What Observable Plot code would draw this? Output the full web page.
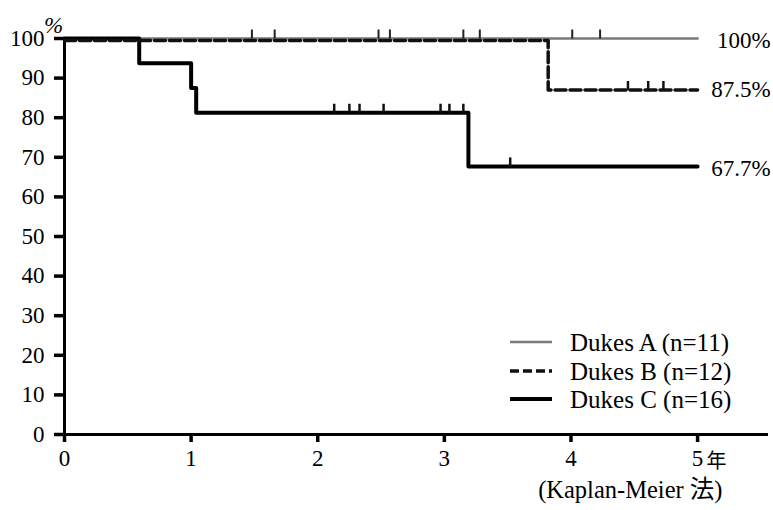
<!DOCTYPE html>
<html>
<head>
<meta charset="utf-8">
<script src="https://cdn.jsdelivr.net/npm/d3@7"></script>
<script src="https://cdn.jsdelivr.net/npm/@observablehq/plot@0.6"></script>
<style>
  body { margin: 0; background: #fff; }
  #wrap { position: relative; width: 773px; height: 510px; }
  #legend { position: absolute; left: 0; top: 0; pointer-events: none; }
</style>
</head>
<body>
<div id="wrap"></div>
<script>
// ---- data ----
const xTicks = [0, 1, 2, 3, 4, 5];
const yTicks = [0, 10, 20, 30, 40, 50, 60, 70, 80, 90, 100];
const xMax = 5.56;

// Dukes A (n=11)
const timeA = [0, 5];
const survA = [100, 100];
const censorA = [1.48, 1.66, 2.48, 2.57, 3.15, 3.28, 4.01, 4.23];

// Dukes B (n=12)
const timeB = [0, 3.82, 5];
const survB = [100, 87.5, 87.5];
const censorB = [4.45, 4.61, 4.73];

// Dukes C (n=16)
const timeC = [0, 0.59, 1.0, 1.04, 3.19, 5];
const survC = [100, 93.75, 87.5, 81.25, 67.7, 67.7];
const censorC = [2.13, 2.25, 2.33, 2.52, 2.97, 3.04, 3.15, 3.52];
const censorCSurv = [81.25, 81.25, 81.25, 81.25, 81.25, 81.25, 81.25, 67.7];

const endLabels = ["100%", "87.5%", "67.7%"];
const endValues = [100, 87.5, 67.7];

const legendNames = ["Dukes A (n=11)", "Dukes B (n=12)", "Dukes C (n=16)"];

// ---- build tables ----
const lineA = timeA.map((t, i) => ({t, s: survA[i]}));
const lineB = timeB.map((t, i) => ({t, s: survB[i]}));
const lineC = timeC.map((t, i) => ({t, s: survC[i]}));
const cenA = censorA.map(t => ({t, s: 100}));
const cenB = censorB.map(t => ({t, s: 87.5}));
const cenC = censorC.map((t, i) => ({t, s: censorCSurv[i]}));
const ends = endLabels.map((label, i) => ({label, s: endValues[i], t: xTicks[xTicks.length - 1]}));

const censorSymbol = {draw(ctx) { ctx.moveTo(0, 0); ctx.lineTo(0, -9); }};

const serif = "'Liberation Serif', 'Times New Roman', 'Noto Sans CJK JP', serif";

const chart = Plot.plot({
  width: 773,
  height: 510,
  marginLeft: 64,
  marginRight: 5,
  marginTop: 38,
  marginBottom: 76,
  style: {fontFamily: serif, fontSize: "23px", color: "#000", background: "#fff", overflow: "visible"},
  x: {domain: [0, xMax], ticks: xTicks, tickSize: 8, tickPadding: 7, label: null, tickFormat: d => String(d)},
  y: {domain: [0, 100], ticks: yTicks, tickSize: 10, tickPadding: 10, label: null, tickFormat: d => String(d)},
  marks: [
    Plot.ruleY([0], {stroke: "#000", strokeWidth: 3}),
    Plot.ruleX([0], {stroke: "#000", strokeWidth: 3}),
    Plot.line(lineA, {x: "t", y: "s", curve: "step-after", stroke: "#7a7a7a", strokeWidth: 2.5}),
    Plot.line(lineC, {x: "t", y: "s", curve: "step-after", stroke: "#000", strokeWidth: 4}),
    Plot.line(lineB, {x: "t", y: "s", curve: "step-after", stroke: "#111", strokeWidth: 3.5, strokeDasharray: "11,4", dy: 2}),
    Plot.dot(cenA, {x: "t", y: "s", symbol: censorSymbol, r: 4, fill: "none", stroke: "#222", strokeWidth: 2}),
    Plot.dot(cenB, {x: "t", y: "s", symbol: censorSymbol, r: 4, fill: "none", stroke: "#111", strokeWidth: 2.5, dy: 2}),
    Plot.dot(cenC, {x: "t", y: "s", symbol: censorSymbol, r: 4, fill: "none", stroke: "#111", strokeWidth: 2.5}),
    Plot.text(ends, {x: "t", y: "s", text: "label", textAnchor: "end", dx: 73, dy: 2, fontSize: 23, fill: "#000"}),
    Plot.text(["年"], {x: () => xTicks[xTicks.length - 1], y: () => 0, text: d => d, textAnchor: "start", dx: 9, dy: 27, fontSize: 20, fontFamily: "'Noto Sans CJK JP', sans-serif", fill: "#000"}),
    Plot.text(["%"], {frameAnchor: "top-left", text: d => d, textAnchor: "middle", dx: -11, dy: -22, fontSize: 23, fontStyle: "italic", fill: "#000"}),
    Plot.text(["(Kaplan-Meier 法)"], {frameAnchor: "bottom-right", text: d => d, textAnchor: "end", dx: -46, dy: 63, fontSize: 24.5, fill: "#000"})
  ]
});
document.getElementById("wrap").appendChild(chart);

// thicken the library's axis ticks and enlarge their labels (as in the reference)
const root = d3.select(chart);
root.selectAll('g[aria-label*="axis"]').style("font-size", "23px").style("font-family", serif);
root.selectAll('g[aria-label*="axis"] path, g[aria-label*="axis"] line')
  .style("stroke-width", "3.5px").style("stroke", "#000");
root.selectAll('g[aria-label*="axis"] text')
  .style("font-size", "23px").style("font-family", serif).style("fill", "#000");

// ---- legend (overlay) ----
const lg = d3.select("#wrap").append("svg").attr("id", "legend").attr("width", 773).attr("height", 510);
const legendStyles = [
  {stroke: "#7a7a7a", width: 2.5, dash: null},
  {stroke: "#111", width: 3.5, dash: "9,4"},
  {stroke: "#000", width: 4, dash: null}
];
const rowY = [342, 371, 399];
legendNames.forEach((name, i) => {
  const s = legendStyles[i];
  lg.append("line").attr("x1", 510).attr("x2", 552).attr("y1", rowY[i]).attr("y2", rowY[i])
    .attr("stroke", s.stroke).attr("stroke-width", s.width).attr("stroke-dasharray", s.dash);
  lg.append("text").attr("x", 570).attr("y", rowY[i]).attr("dy", "0.35em")
    .attr("font-family", serif).attr("font-size", 25).attr("fill", "#000").text(name);
});
</script>
</body>
</html>
